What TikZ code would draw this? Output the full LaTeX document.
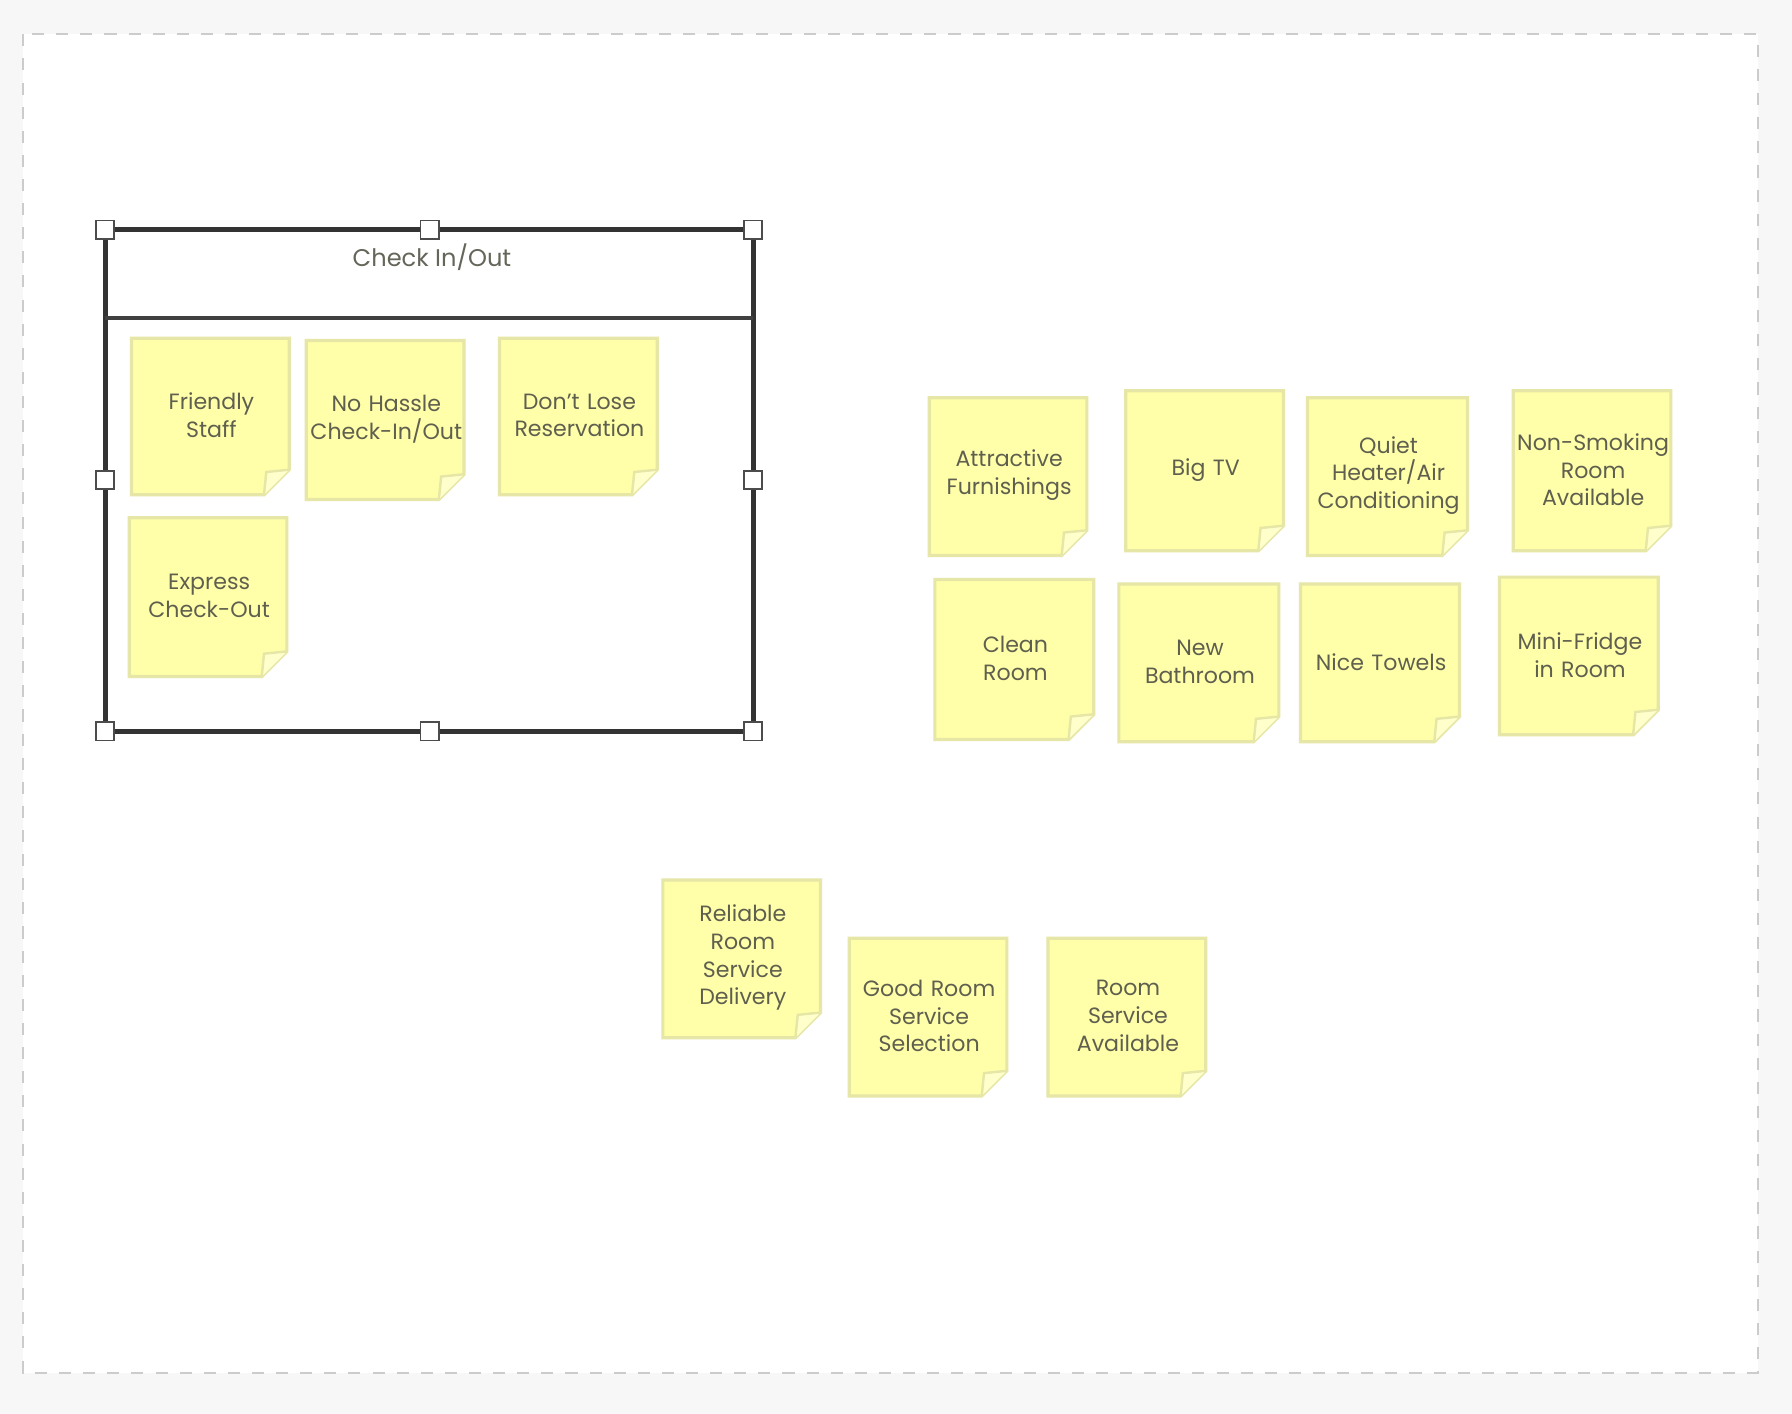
\documentclass[tikz,border=0pt]{standalone}
\usepackage{fontspec}
\setmainfont{Poppins}
\definecolor{bgc}{HTML}{F7F7F7}
\definecolor{notef}{HTML}{FFFFA9}
\definecolor{noted}{HTML}{E6E6A6}
\definecolor{foldc}{HTML}{FFFFCC}
\definecolor{txt}{HTML}{5F5F50}
\tikzset{
 notetext/.style={text width=1.45cm, align=center, font=\fontsize{5.5}{6.9}\selectfont, text=txt, inner sep=0pt},
 handle/.style={draw=black!70, fill=white, line width=0.4pt, minimum size=0.16cm, inner sep=0pt},
}
% \snote{name}{x1}{y1}{x2}{y2}{text}
\newcommand{\snote}[6]{%
 \fill[notef, draw=noted, line width=0.8pt] (#2,#3) -- (#4,#3) -- (#4,#5-22) -- (#4-22,#5) -- (#2,#5) -- cycle;
 \filldraw[fill=foldc, draw=noted, line width=0.6pt] (#4,#5-22) -- (#4-20,#5-20) -- (#4-22,#5);
 \node[notetext] (#1) at ({(#2+#4)/2+1},{(#3+#5)/2-1}) {#6};
}
\begin{document}
\begin{tikzpicture}[x=0.01cm,y=-0.01cm]
\fill[bgc] (0,0) rectangle (1568,1237);
\useasboundingbox (0,0) rectangle (1568,1237);
\fill[white] (20,30) rectangle (1538,1201);
\draw[black!20, dashed, line width=0.5pt] (20,30) rectangle (1538,1201);
% container
\draw[black!80, line width=1.3pt] (92,201) rectangle (659,640);
\draw[black!75, line width=0.9pt] (92,278) -- (659,278);
\node[font=\fontsize{6}{7}\selectfont, text=txt!80!gray] (title) at (378,225) {Check In/Out};
\foreach \p/\n in {{92,201}/h1,{376,201}/h2,{659,201}/h3,{92,420}/h4,{659,420}/h5,{92,640}/h6,{376,640}/h7,{659,640}/h8}
  \node[handle] (\n) at (\p) {};
\snote{a}{115}{296}{253}{433}{Friendly\\Staff}
\snote{b}{268}{298}{406}{437}{No Hassle\\Check-In/Out}
\snote{c}{437}{296}{575}{433}{Don't Lose\\Reservation}
\snote{d}{113}{453}{251}{592}{Express\\Check-Out}
\snote{e}{813}{348}{951}{486}{Attractive\\Furnishings}
\snote{f}{985}{342}{1123}{482}{Big TV}
\snote{g}{1144}{348}{1284}{486}{Quiet\\Heater/Air\\Conditioning}
\snote{h}{1324}{342}{1462}{482}{Non-Smoking\\Room\\Available}
\snote{i}{818}{507}{957}{647}{Clean\\Room}
\snote{j}{979}{511}{1119}{649}{New\\Bathroom}
\snote{k}{1138}{511}{1277}{649}{Nice Towels}
\snote{l}{1312}{505}{1451}{643}{Mini-Fridge\\in Room}
\snote{m}{580}{770}{718}{908}{Reliable\\Room\\Service\\Delivery}
\snote{n}{743}{821}{881}{959}{Good Room\\Service\\Selection}
\snote{o}{917}{821}{1055}{959}{Room\\Service\\Available}
\end{tikzpicture}
\end{document}
